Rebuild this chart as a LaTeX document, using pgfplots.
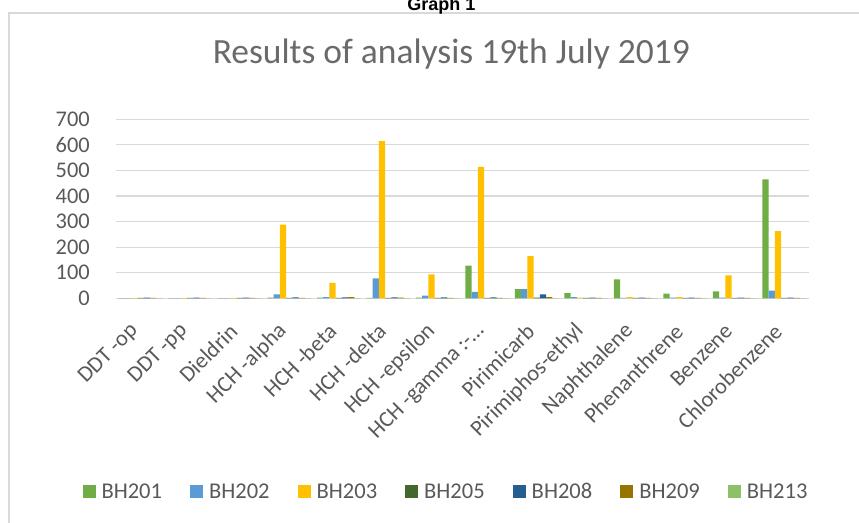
\documentclass[border=0pt]{standalone}
\usepackage{fontspec}
\setmainfont{Carlito}
\newfontfamily\arialfont{Liberation Sans}
\usepackage{pgfplots}
\usepackage{pgfplotstable}
\pgfplotsset{compat=1.18}
\definecolor{c1}{HTML}{70AD47}
\definecolor{c2}{HTML}{5B9BD5}
\definecolor{c3}{HTML}{FFC000}
\definecolor{c4}{HTML}{43682B}
\definecolor{c5}{HTML}{255E91}
\definecolor{c6}{HTML}{997300}
\definecolor{c7}{HTML}{8CC168}
\definecolor{tc}{HTML}{595959}
\definecolor{gridc}{HTML}{D9D9D9}

\pgfplotstableread{
x  b201 b202 b203 b205 b208 b209 b213
0  1    1    2    2    3    2    1
1  1    1    2    2    3    2    1
2  1    1    2    2    3    2    1
3  3    15   288  2    4    2    1
4  3    5    60   2    4    5    1
5  2    78   615  2    4    3    1
6  3    10   94   2    4    2    1
7  128  25   514  2    4    2    1
8  36   36   165  3    15   5    1
9  20   5    3    2    3    2    1
10 74   2    5    2    3    2    1
11 18   3    5    2    3    2    1
12 27   3    90   2    3    2    1
13 465  30   263  2    3    2    1
}\data

\begin{document}
\begin{tikzpicture}
\path[use as bounding box] (0,0) rectangle (644.25pt,391.5pt);
\draw[gridc, line width=1.2pt] (6.75pt,-20pt) -- (6.75pt,381.75pt) -- (700pt,381.75pt);
\node[anchor=base, inner sep=0pt, font=\arialfont\bfseries\fontsize{13.5}{15}\selectfont] at (331pt,383.5pt) {Graph 1};
\node[anchor=base, inner sep=0pt, text=tc!90, font=\fontsize{26.6}{30}\selectfont] at (338.5pt,344pt) {Results of analysis 19th July 2019};
\begin{axis}[
  at={(87pt,167.775pt)}, anchor=south west,
  scale only axis, width=519.75pt, height=134.25pt,
  xmin=-0.5, xmax=13.5, ymin=0, ymax=700,
  ybar=0pt, bar width=4.7pt,
  ytick={0,100,...,700},
  xtick={0,...,13},
  xticklabels={DDT -op,DDT -pp,Dieldrin,HCH -alpha,HCH -beta,HCH -delta,HCH -epsilon,HCH -gamma :-…,Pirimicarb,Pirimiphos-ethyl,Naphthalene,Phenanthrene,Benzene,Chlorobenzene},
  axis line style={draw=none},
  major tick length=0pt,
  ymajorgrids, grid style={gridc, line width=0.9pt},
  tick label style={font=\fontsize{16.8}{20}\selectfont, text=tc},
  yticklabel style={anchor=east, inner sep=0pt, xshift=-19.5pt},
  xticklabel style={anchor=east, inner sep=0pt, xshift=-4.5pt, yshift=-22pt, rotate=45},
  /pgf/number format/assume math mode=true,
  legend image code/.code={\fill[#1] (0pt,-4.875pt) rectangle (9.75pt,4.875pt);},
  legend style={at={(axis description cs:0.4747,-1.082)}, anchor=center, draw=none, fill=none,
    legend columns=-1, font=\fontsize{16.9}{20}\selectfont, text=tc,
    nodes={inner xsep=0pt, inner ysep=1pt},
    /tikz/every odd column/.append style={column sep=4.5pt},
    /tikz/every even column/.append style={column sep=21pt}},
]
\addplot[fill=c1, draw=none] table[x=x,y=b201] {\data};
\addplot[fill=c2, draw=none] table[x=x,y=b202] {\data};
\addplot[fill=c3, draw=none] table[x=x,y=b203] {\data};
\addplot[fill=c4, draw=none] table[x=x,y=b205] {\data};
\addplot[fill=c5, draw=none] table[x=x,y=b208] {\data};
\addplot[fill=c6, draw=none] table[x=x,y=b209] {\data};
\addplot[fill=c7, draw=none] table[x=x,y=b213] {\data};
\legend{BH201,BH202,BH203,BH205,BH208,BH209,BH213}
\end{axis}
\end{tikzpicture}
\end{document}
